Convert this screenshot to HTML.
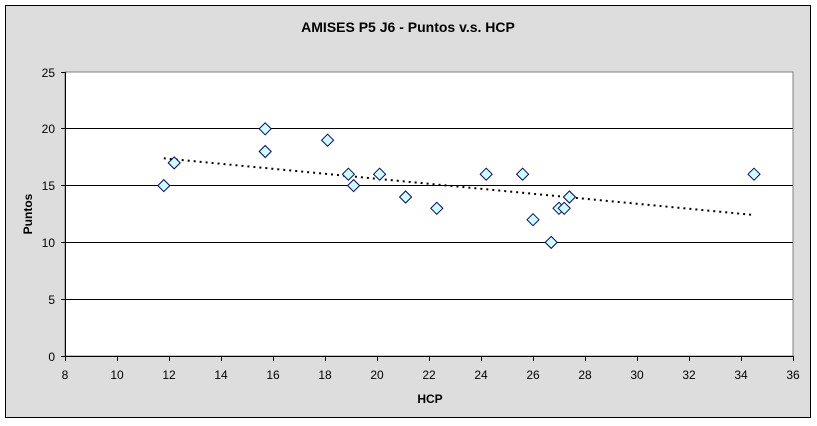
<!DOCTYPE html>
<html><head><meta charset="utf-8"><style>body{margin:0;background:#fff}svg{display:block}</style></head><body>
<svg width="817" height="426" xmlns="http://www.w3.org/2000/svg" font-family="Liberation Sans, Arial, sans-serif">
<rect x="0" y="0" width="817" height="426" fill="#fff"/>
<rect x="5.5" y="5.5" width="805" height="412" fill="#dddddd" stroke="#000" stroke-width="1"/>
<text x="408" y="32" text-anchor="middle" font-size="14" font-weight="bold">AMISES P5 J6 - Puntos v.s. HCP</text>
<rect x="65" y="72" width="728" height="284" fill="#fff" stroke="#808080" stroke-width="1"/>
<g stroke="#000" stroke-width="1">
<line x1="65" y1="128.5" x2="793" y2="128.5"/>
<line x1="65" y1="185.5" x2="793" y2="185.5"/>
<line x1="65" y1="242.5" x2="793" y2="242.5"/>
<line x1="65" y1="299.5" x2="793" y2="299.5"/>
<line x1="65.5" y1="72" x2="65.5" y2="356"/>
<line x1="65" y1="356.5" x2="793" y2="356.5"/>
<g>
<line x1="61" y1="72.5" x2="65" y2="72.5"/><line x1="61" y1="128.5" x2="65" y2="128.5"/><line x1="61" y1="185.5" x2="65" y2="185.5"/><line x1="61" y1="242.5" x2="65" y2="242.5"/><line x1="61" y1="299.5" x2="65" y2="299.5"/><line x1="61" y1="356.5" x2="65" y2="356.5"/>
<line x1="65.5" y1="356" x2="65.5" y2="361"/><line x1="117.5" y1="356" x2="117.5" y2="361"/><line x1="169.5" y1="356" x2="169.5" y2="361"/><line x1="221.5" y1="356" x2="221.5" y2="361"/><line x1="273.5" y1="356" x2="273.5" y2="361"/><line x1="325.5" y1="356" x2="325.5" y2="361"/><line x1="377.5" y1="356" x2="377.5" y2="361"/><line x1="429.5" y1="356" x2="429.5" y2="361"/><line x1="481.5" y1="356" x2="481.5" y2="361"/><line x1="533.5" y1="356" x2="533.5" y2="361"/><line x1="585.5" y1="356" x2="585.5" y2="361"/><line x1="637.5" y1="356" x2="637.5" y2="361"/><line x1="689.5" y1="356" x2="689.5" y2="361"/><line x1="741.5" y1="356" x2="741.5" y2="361"/><line x1="793.5" y1="356" x2="793.5" y2="361"/>
</g></g>
<g font-size="12" text-anchor="end">
<text x="55" y="77">25</text><text x="55" y="133">20</text><text x="55" y="190">15</text><text x="55" y="247">10</text><text x="55" y="304">5</text><text x="55" y="361">0</text>
</g>
<g font-size="12" text-anchor="middle">
<text x="65" y="379">8</text><text x="117" y="379">10</text><text x="169" y="379">12</text><text x="221" y="379">14</text><text x="273" y="379">16</text><text x="325" y="379">18</text><text x="377" y="379">20</text><text x="429" y="379">22</text><text x="481" y="379">24</text><text x="533" y="379">26</text><text x="585" y="379">28</text><text x="637" y="379">30</text><text x="689" y="379">32</text><text x="741" y="379">34</text><text x="793" y="379">36</text>
</g>
<text x="430" y="403" font-size="12" font-weight="bold" text-anchor="middle">HCP</text>
<text transform="translate(32,214) rotate(-90)" font-size="12" font-weight="bold" text-anchor="middle">Puntos</text>
<line x1="163.8" y1="158.3" x2="754" y2="215" stroke="#000" stroke-width="2" stroke-dasharray="2,4"/>
<g fill="#ccffff" stroke="#000080" stroke-width="1">
<path id="d" d="M0,-6 L6,0 L0,6 L-6,0Z" transform="translate(163.8,185.6)"/>
<path d="M0,-6 L6,0 L0,6 L-6,0Z" transform="translate(174.2,162.9)"/>
<path d="M0,-6 L6,0 L0,6 L-6,0Z" transform="translate(265.2,128.8)"/>
<path d="M0,-6 L6,0 L0,6 L-6,0Z" transform="translate(265.2,151.5)"/>
<path d="M0,-6 L6,0 L0,6 L-6,0Z" transform="translate(327.6,140.2)"/>
<path d="M0,-6 L6,0 L0,6 L-6,0Z" transform="translate(348.4,174.2)"/>
<path d="M0,-6 L6,0 L0,6 L-6,0Z" transform="translate(353.6,185.6)"/>
<path d="M0,-6 L6,0 L0,6 L-6,0Z" transform="translate(379.6,174.2)"/>
<path d="M0,-6 L6,0 L0,6 L-6,0Z" transform="translate(405.6,197)"/>
<path d="M0,-6 L6,0 L0,6 L-6,0Z" transform="translate(436.8,208.3)"/>
<path d="M0,-6 L6,0 L0,6 L-6,0Z" transform="translate(486.2,174.2)"/>
<path d="M0,-6 L6,0 L0,6 L-6,0Z" transform="translate(522.6,174.2)"/>
<path d="M0,-6 L6,0 L0,6 L-6,0Z" transform="translate(533,219.7)"/>
<path d="M0,-6 L6,0 L0,6 L-6,0Z" transform="translate(551.2,242.4)"/>
<path d="M0,-6 L6,0 L0,6 L-6,0Z" transform="translate(559,208.3)"/>
<path d="M0,-6 L6,0 L0,6 L-6,0Z" transform="translate(564.2,208.3)"/>
<path d="M0,-6 L6,0 L0,6 L-6,0Z" transform="translate(569.4,197)"/>
<path d="M0,-6 L6,0 L0,6 L-6,0Z" transform="translate(754,174.2)"/>
</g>
</svg>
</body></html>
